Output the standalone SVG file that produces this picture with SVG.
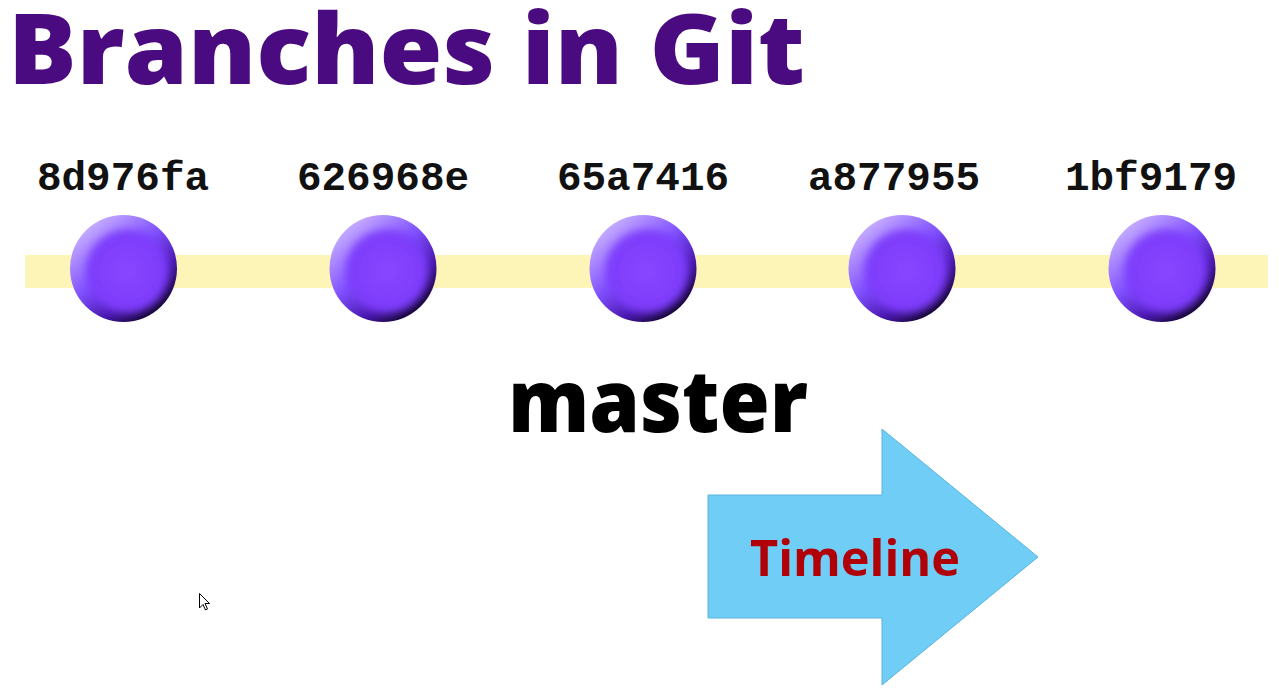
<svg xmlns="http://www.w3.org/2000/svg" width="1279" height="689" viewBox="0 0 1279 689">
<style>
.title{font-family:"Open Sans","Liberation Sans",sans-serif;font-weight:800;font-size:98px;fill:#4a0a80}
.hash{font-family:"Liberation Mono","Courier New",monospace;font-weight:bold;font-size:41px;fill:#111;text-anchor:middle}
.branch{font-family:"Open Sans","Liberation Sans",sans-serif;font-weight:800;font-size:86px;fill:#000}
.tl{font-family:"Open Sans","Liberation Sans",sans-serif;font-weight:bold;font-size:51px;fill:#b00008}
</style>
<defs>
<linearGradient id="rim" x1="0.15" y1="0.1" x2="0.8" y2="0.9">
<stop offset="0" stop-color="#c8b0ff"/>
<stop offset="0.45" stop-color="#8050ff"/>
<stop offset="0.75" stop-color="#4a18b0"/>
<stop offset="1" stop-color="#12042e"/>
</linearGradient>
<radialGradient id="core" cx="0.5" cy="0.5" r="0.5">
<stop offset="0" stop-color="#8a46ff"/>
<stop offset="0.8" stop-color="#7d3cfb"/>
<stop offset="1" stop-color="#7d3cfb" stop-opacity="0"/>
</radialGradient>
<filter id="soft" x="-20%" y="-20%" width="140%" height="140%"><feGaussianBlur stdDeviation="3"/></filter>
<g id="ball">
<circle r="53.5" fill="url(#rim)"/>
<circle cx="4" cy="3" r="46" fill="url(#core)" filter="url(#soft)"/>
</g>
</defs>
<rect width="1279" height="689" fill="#fff"/>
<text class="title" x="8" y="84" textLength="797" lengthAdjust="spacingAndGlyphs">Branches in Git</text>
<g id="connectors">
<rect x="25" y="255" width="1243" height="33" fill="#fdf5b8"/>
</g>
<g id="c1"><use href="#ball" x="123.5" y="268.5"/><text class="hash" x="123" y="190">8d976fa</text></g>
<g id="c2"><use href="#ball" x="383" y="268.5"/><text class="hash" x="383" y="190">626968e</text></g>
<g id="c3"><use href="#ball" x="643" y="268.5"/><text class="hash" x="643" y="190">65a7416</text></g>
<g id="c4"><use href="#ball" x="902" y="268.5"/><text class="hash" x="894" y="190">a877955</text></g>
<g id="c5"><use href="#ball" x="1162" y="268.5"/><text class="hash" x="1151" y="190">1bf9179</text></g>
<g id="master"><text class="branch" x="508" y="432" textLength="300" lengthAdjust="spacingAndGlyphs">master</text></g>
<g id="timeline">
<polygon points="708,495 882,495 882,429 1038,557 882,685 882,618 708,618" fill="#70cdf5" stroke="#5ab4dc" stroke-width="1"/>
<text class="tl" x="750" y="576" textLength="210" lengthAdjust="spacingAndGlyphs">Timeline</text>
</g>
<path d="M199.5,593.5 L199.5,608 L203,604.5 L205.5,610 L207.5,609 L205,603.5 L209.5,603.5 Z" fill="#fff" stroke="#000" stroke-width="1"/>
</svg>
